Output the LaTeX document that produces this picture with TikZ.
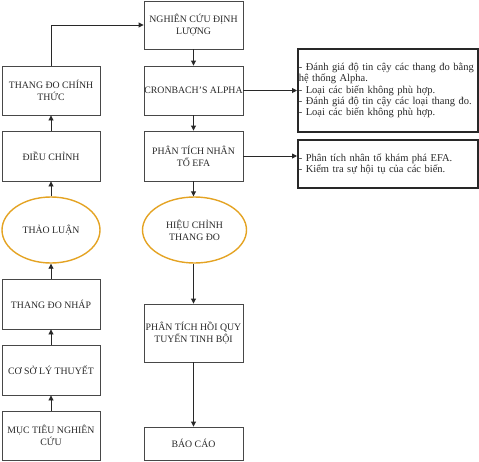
\documentclass[tikz,border=0pt]{standalone}
\usepackage{fontspec}
\setmainfont{Liberation Serif}
\usetikzlibrary{arrows.meta,shapes.geometric}
\definecolor{gold}{RGB}{228,163,35}
\definecolor{ink}{RGB}{40,40,40}
\tikzset{
  box/.style={draw=ink!85, line width=0.9pt, rectangle, inner sep=0pt, align=center,
    text=ink, font=\fontsize{9.8}{12}\selectfont},
  oval/.style={draw=gold, line width=1.4pt, ellipse, inner sep=0pt, align=center,
    text=ink, font=\fontsize{9.8}{12}\selectfont},
  notebox/.style={draw=ink, line width=1.6pt, rectangle, inner sep=1pt, align=left,
    text width=178pt, text=ink, font=\fontsize{10.5}{11.2}\selectfont, anchor=west},
  arr/.style={draw=ink, line width=0.9pt, -{Triangle[length=5pt,width=5pt]}}
}
\begin{document}
\begin{tikzpicture}[x=1pt,y=-1pt]
\useasboundingbox (0,0) rectangle (479,461);
% left column
\node[box, minimum width=98pt, minimum height=49pt] (tdct) at (51,90.5) {THANG ĐO CHÍNH\\THỨC};
\node[box, minimum width=98pt, minimum height=50pt] (dc) at (51,156) {ĐIỀU CHỈNH};
\node[oval, minimum width=98pt, minimum height=66pt] (tl) at (51,230) {THẢO LUẬN};
\node[box, minimum width=98pt, minimum height=50pt] (tdn) at (51,304) {THANG ĐO NHÁP};
\node[box, minimum width=98pt, minimum height=50pt] (cs) at (51,370) {CƠ SỞ LÝ THUYẾT};
\node[box, minimum width=98pt, minimum height=49pt] (mt) at (51,435.5) {MỤC TIÊU NGHIÊN\\CỨU};
% middle column
\node[box, minimum width=99pt, minimum height=48pt] (ncdl) at (193.5,25) {NGHIÊN CỨU ĐỊNH\\LƯỢNG};
\node[box, minimum width=99pt, minimum height=49pt] (cr) at (193.5,90.5) {CRONBACH'S ALPHA};
\node[box, minimum width=99pt, minimum height=50pt] (efa) at (193.5,156) {PHÂN TÍCH NHÂN\\TỐ EFA};
\node[oval, minimum width=104pt, minimum height=66pt] (hc) at (194.5,230) {HIỆU CHỈNH\\THANG ĐO};
\node[box, minimum width=99pt, minimum height=58pt] (hq) at (193.5,333) {PHÂN TÍCH HỒI QUY\\TUYẾN TINH BỘI};
\node[box, minimum width=99pt, minimum height=33pt] (bc) at (193.5,443.5) {BÁO CÁO};
% right notes
\node[notebox, minimum height=83pt] (r1) at (297,90.5) {\mbox{- Đánh giá độ tin cậy các thang đo bằng}\\\mbox{hệ thống Alpha.}\\\mbox{- Loại các biến không phù hợp.}\\\mbox{- Đánh giá độ tin cậy các loại thang đo.}\\\mbox{- Loại các biến không phù hợp.}};
\node[notebox, minimum height=48pt] (r2) at (297,164) {\mbox{- Phân tích nhân tố khám phá EFA.}\\\mbox{- Kiểm tra sự hội tụ của các biến.}};
% left arrows
\draw[arr] (mt) -- (cs);
\draw[arr] (cs) -- (tdn);
\draw[arr] (tdn) -- (tl);
\draw[arr] (tl) -- (dc);
\draw[arr] (dc) -- (tdct);
\draw[arr] (tdct.north) |- (ncdl.west);
% middle arrows
\draw[arr] (ncdl) -- (cr);
\draw[arr] (cr) -- (efa);
\draw[arr] (efa.south) -- (efa.south |- hc.north);
\draw[arr] (hc.south -| hq.north) -- (hq.north);
\draw[arr] (hq) -- (bc);
% right arrows
\draw[arr] (cr.east) -- (r1.west);
\draw[arr] (efa.east) -- (efa.east -| r2.west);
\end{tikzpicture}
\end{document}
